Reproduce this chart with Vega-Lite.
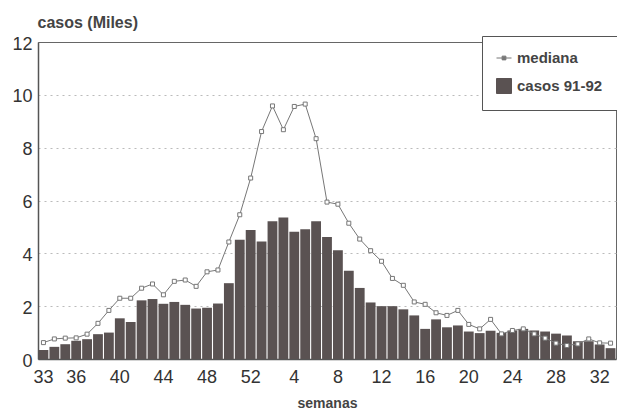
{
  "$schema": "https://vega.github.io/schema/vega-lite/v6.json",
  "autosize": {"type": "none"},
  "padding": {"left": 38, "top": 42, "right": 1, "bottom": 55},
  "width": 578,
  "height": 317,
  "background": "white",
  "data": {"values": [
    {"sem": "91-33", "casos": 0.34, "mediana": 0.62},
    {"sem": "91-34", "casos": 0.46, "mediana": 0.76},
    {"sem": "91-35", "casos": 0.56, "mediana": 0.79},
    {"sem": "91-36", "casos": 0.69, "mediana": 0.8},
    {"sem": "91-37", "casos": 0.75, "mediana": 0.94},
    {"sem": "91-38", "casos": 0.94, "mediana": 1.35},
    {"sem": "91-39", "casos": 1.0, "mediana": 1.84},
    {"sem": "91-40", "casos": 1.54, "mediana": 2.3},
    {"sem": "91-41", "casos": 1.4, "mediana": 2.3},
    {"sem": "91-42", "casos": 2.22, "mediana": 2.68},
    {"sem": "91-43", "casos": 2.27, "mediana": 2.84},
    {"sem": "91-44", "casos": 2.09, "mediana": 2.43},
    {"sem": "91-45", "casos": 2.16, "mediana": 2.94},
    {"sem": "91-46", "casos": 2.05, "mediana": 2.99},
    {"sem": "91-47", "casos": 1.91, "mediana": 2.75},
    {"sem": "91-48", "casos": 1.94, "mediana": 3.3},
    {"sem": "91-49", "casos": 2.1, "mediana": 3.37},
    {"sem": "91-50", "casos": 2.87, "mediana": 4.43},
    {"sem": "91-51", "casos": 4.51, "mediana": 5.46},
    {"sem": "91-52", "casos": 4.88, "mediana": 6.85},
    {"sem": "92-1", "casos": 4.45, "mediana": 8.61},
    {"sem": "92-2", "casos": 5.21, "mediana": 9.58},
    {"sem": "92-3", "casos": 5.36, "mediana": 8.68},
    {"sem": "92-4", "casos": 4.82, "mediana": 9.56},
    {"sem": "92-5", "casos": 4.91, "mediana": 9.65},
    {"sem": "92-6", "casos": 5.21, "mediana": 8.34},
    {"sem": "92-7", "casos": 4.62, "mediana": 5.94},
    {"sem": "92-8", "casos": 4.12, "mediana": 5.86},
    {"sem": "92-9", "casos": 3.34, "mediana": 5.14},
    {"sem": "92-10", "casos": 2.69, "mediana": 4.54},
    {"sem": "92-11", "casos": 2.14, "mediana": 4.1},
    {"sem": "92-12", "casos": 2.0, "mediana": 3.7},
    {"sem": "92-13", "casos": 2.0, "mediana": 3.05},
    {"sem": "92-14", "casos": 1.88, "mediana": 2.79},
    {"sem": "92-15", "casos": 1.65, "mediana": 2.16},
    {"sem": "92-16", "casos": 1.14, "mediana": 2.07},
    {"sem": "92-17", "casos": 1.5, "mediana": 1.75},
    {"sem": "92-18", "casos": 1.2, "mediana": 1.65},
    {"sem": "92-19", "casos": 1.27, "mediana": 1.84},
    {"sem": "92-20", "casos": 1.04, "mediana": 1.31},
    {"sem": "92-21", "casos": 0.98, "mediana": 1.14},
    {"sem": "92-22", "casos": 1.07, "mediana": 1.5},
    {"sem": "92-23", "casos": 0.99, "mediana": 0.95},
    {"sem": "92-24", "casos": 1.08, "mediana": 1.08},
    {"sem": "92-25", "casos": 1.14, "mediana": 1.14},
    {"sem": "92-26", "casos": 1.08, "mediana": 0.95},
    {"sem": "92-27", "casos": 1.04, "mediana": 0.79},
    {"sem": "92-28", "casos": 0.96, "mediana": 0.6},
    {"sem": "92-29", "casos": 0.89, "mediana": 0.51},
    {"sem": "92-30", "casos": 0.67, "mediana": 0.57},
    {"sem": "92-31", "casos": 0.67, "mediana": 0.76},
    {"sem": "92-32", "casos": 0.55, "mediana": 0.61},
    {"sem": "92-33", "casos": 0.41, "mediana": 0.6}
  ]},
  "encoding": {
    "x": {
      "field": "sem", "type": "ordinal", "sort": null,
      "scale": {"paddingInner": 0.1, "paddingOuter": 0.05},
      "axis": {
        "values": ["91-33","91-36","91-40","91-44","91-48","91-52","92-4","92-8","92-12","92-16","92-20","92-24","92-28","92-32"],
        "labelExpr": "split(datum.value, '-')[1]",
        "labelAngle": 0, "labelFontSize": 18, "labelColor": "#333", "labelPadding": 9,
        "ticks": false, "domainColor": "#555", "domainWidth": 1.5, "grid": false,
        "title": "semanas", "titleFontSize": 14, "titleFontWeight": "bold", "titleColor": "#444",
        "titleY": 48, "titleBaseline": "alphabetic"
      }
    }
  },
  "layer": [
    {
      "mark": {"type": "bar", "color": "#5a5252"},
      "encoding": {
        "y": {
          "field": "casos", "type": "quantitative",
          "scale": {"domain": [0, 12], "nice": false},
          "axis": {
            "values": [0, 2, 4, 6, 8, 10, 12],
            "grid": true, "gridDash": [2, 4], "gridColor": "#bbb", "gridWidth": 1,
            "gridOpacity": {"condition": {"test": "datum.value === 12", "value": 0}, "value": 1},
            "ticks": false, "domainColor": "#555", "domainWidth": 1.5,
            "labelFontSize": 18, "labelColor": "#333", "labelPadding": 6, "labelOffset": 2,
            "title": "casos (Miles)", "titleAngle": 0, "titleAlign": "left", "titleBaseline": "alphabetic",
            "titleX": -1, "titleY": -15, "titleFontSize": 16, "titleFontWeight": "bold", "titleColor": "#444"
          }
        },
        "color": {
          "datum": "casos 91-92",
          "scale": {"domain": ["mediana", "casos 91-92"], "range": ["#777", "#5a5252"]},
          "legend": {
            "title": null, "orient": "none", "legendX": 444, "legendY": -6,
            "padding": 14, "rowPadding": 10, "symbolSize": 225, "labelOffset": 5,
            "labelFontSize": 15, "labelFontWeight": "bold", "labelColor": "#444",
            "strokeColor": "#555", "fillColor": "#fff",
            "encode": {
              "symbols": {"update": {
                "shape": {"signal": "datum.value === 'mediana' ? 'M-1,0H-0.25M0.25,0H1M-0.25,-0.25H0.25V0.25H-0.25Z' : 'square'"},
                "fill": {"signal": "datum.value === 'mediana' ? '#fff' : '#5a5252'"},
                "stroke": {"signal": "datum.value === 'mediana' ? '#777' : '#5a5252'"},
                "strokeWidth": {"value": 1},
                "opacity": {"value": 1}
              }}
            }
          }
        }
      }
    },
    {
      "mark": {"type": "line", "strokeWidth": 1},
      "encoding": {
        "y": {"field": "mediana", "type": "quantitative"},
        "color": {"datum": "mediana"}
      }
    },
    {
      "mark": {"type": "point", "shape": "square", "size": 16, "filled": true, "fill": "#fff", "stroke": "#777", "strokeWidth": 1, "opacity": 1},
      "encoding": {
        "y": {"field": "mediana", "type": "quantitative"}
      }
    }
  ],
  "config": {
    "view": {"stroke": "#666", "strokeWidth": 1},
    "font": "Liberation Sans",
    "axis": {"labelFont": "Liberation Sans", "titleFont": "Liberation Sans"},
    "legend": {"labelFont": "Liberation Sans"}
  }
}
